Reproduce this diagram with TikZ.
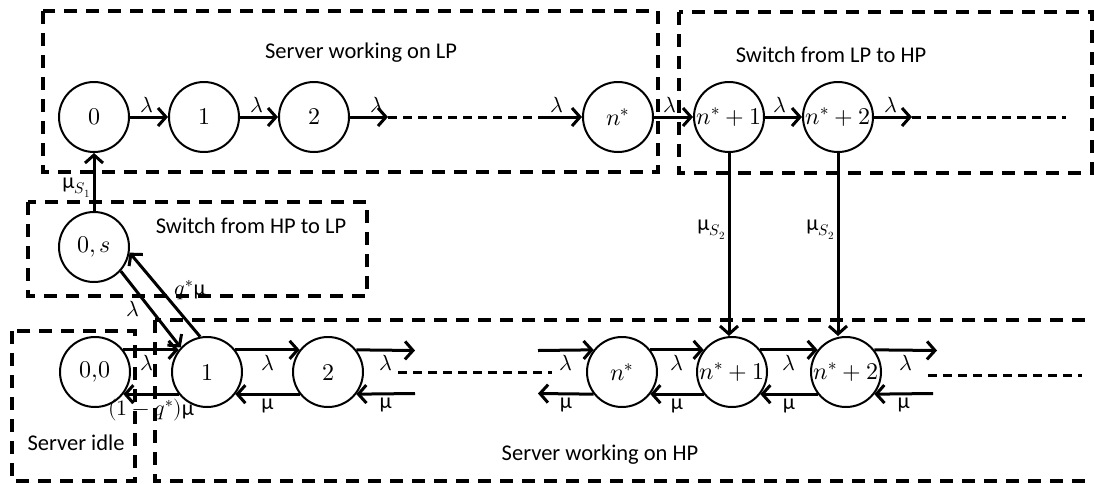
\documentclass[tikz,border=0pt]{standalone}
\usepackage{fontspec}
\usepackage{unicode-math}
\setmainfont{Carlito}
\setmathfont{Latin Modern Math}
\usetikzlibrary{arrows.meta}
\begin{document}
\begin{tikzpicture}[x=1pt,y=-1pt,
  state/.style={draw,circle,line width=2pt,minimum size=70pt,inner sep=0pt,font=\fontsize{24}{28}\selectfont},
  arr/.style={line width=3pt,-{Straight Barb[length=8pt,width=18pt,line width=3pt]}},
  zone/.style={line width=4pt,dash pattern=on 13pt off 9pt},
  gap/.style={line width=3pt,dash pattern=on 9pt off 6pt},
  lbl/.style={font=\fontsize{22}{26}\selectfont,inner sep=2pt},
  zonetext/.style={font=\fontsize{22.5}{26}\selectfont}]
\clip (0,0) rectangle (1094,483);
% regions
\draw[zone] (43,11) rectangle (658,172);
\draw[zone] (679,12) rectangle (1092,173);
\draw[zone] (28,202) rectangle (367,296);
\draw[zone] (12,331) rectangle (135,481);
\draw[zone] (155,320) rectangle (1130,481);
\node[zonetext] (tlp) at (361,53) {Server working on LP};
\node[zonetext] (tlh) at (831,55) {Switch from LP to HP};
\node[zonetext] (thl) at (251,226) {Switch from HP to LP};
\node[zonetext] (tidle) at (76,443) {Server idle};
\node[zonetext] (thp) at (600,455) {Server working on HP};
% states
\node[state] (z0) at (94,117) {$0$};
\node[state] (z1) at (204,117) {$1$};
\node[state] (z2) at (314,117) {$2$};
\node[state] (zn) at (618,117) {$n^*$};
\node[state] (zn1) at (729,117) {$n^*+1$};
\node[state] (zn2) at (838,117) {$n^*+2$};
\node[state] (zs) at (94,247) {$0,s$};
\node[state] (h0) at (95,372) {$0{,}0$};
\node[state] (h1) at (207,372) {$1$};
\node[state] (h2) at (328,372) {$2$};
\node[state] (hn) at (622,372) {$n^*$};
\node[state] (hn1) at (732,372) {$n^*+1$};
\node[state] (hn2) at (846,372) {$n^*+2$};
% free ends
\coordinate (t2) at (388,117);
\coordinate (t3) at (543,117);
\coordinate (t4) at (912,117);
\coordinate (t5) at (1066,117);
\coordinate (b1) at (415,350.5);
\coordinate (b2) at (415,393.5);
\coordinate (b3) at (398,372);
\coordinate (b4) at (552,372);
\coordinate (b5) at (538,350.5);
\coordinate (b6) at (538,393.5);
\coordinate (b7) at (937,350.5);
\coordinate (b8) at (933,393.5);
\coordinate (b9) at (928,375);
\coordinate (b10) at (1082,375);
% top row
\draw[arr] (z0) -- node[lbl,above=1pt,pos=0.45]{$\lambda$} (z1);
\draw[arr] (z1) -- node[lbl,above=1pt,pos=0.45]{$\lambda$} (z2);
\draw[arr] (z2) -- node[lbl,above=1pt,pos=0.7]{$\lambda$} (t2);
\draw[gap] (t2) -- (t3);
\draw[arr] (t3) -- node[lbl,above=1pt,pos=0.35]{$\lambda$} (zn);
\draw[arr] (zn) -- node[lbl,above=1pt,pos=0.4]{$\lambda$} (zn1);
\draw[arr] (zn1) -- node[lbl,above=1pt,pos=0.4]{$\lambda$} (zn2);
\draw[arr] (zn2) -- node[lbl,above=1pt,pos=0.45]{$\lambda$} (t4);
\draw[gap] (t4) -- (t5);
% switching
\draw[arr] (zs) -- node[lbl,left,pos=0.4]{μ$_{S_1}$} (z0);
\draw[arr] (zn1) -- node[lbl,left,pos=0.42]{μ$_{S_2}$} (zn1 |- hn1.north);
\draw[arr] (zn2) -- node[lbl,left,pos=0.42]{μ$_{S_2}$} (zn2 |- hn2.north);
\draw[arr] (zs.-42) -- node[lbl,left=8pt]{$\lambda$} (h1.137);
\draw[arr] (h1.101) -- node[lbl,right=10pt,pos=0.55]{$q^*$μ} (zs.-9);
% bottom row
\draw[arr] (h0.38) -- node[lbl,below=2pt,pos=0.42]{$\lambda$} (h1.142);
\draw[arr] (h1.-142) -- node[lbl,below=1pt]{$(1-q^*)$μ} (h0.-38);
\draw[arr] (h1.38) -- node[lbl,below=2pt]{$\lambda$} (h2.142);
\draw[arr] (h2.-142) -- node[lbl,below=1pt]{μ} (h1.-38);
\draw[arr] (h2.38) -- node[lbl,below=2pt]{$\lambda$} (b1);
\draw[arr] (b2) -- node[lbl,below=1pt]{μ} (h2.-38);
\draw[gap] (b3) -- (b4);
\draw[arr] (b5) -- node[lbl,below=2pt]{$\lambda$} (hn.142);
\draw[arr] (hn.-142) -- node[lbl,below=1pt]{μ} (b6);
\draw[arr] (hn.38) -- node[lbl,below=2pt]{$\lambda$} (hn1.142);
\draw[arr] (hn1.-142) -- node[lbl,below=1pt]{μ} (hn.-38);
\draw[arr] (hn1.38) -- node[lbl,below=2pt]{$\lambda$} (hn2.142);
\draw[arr] (hn2.-142) -- node[lbl,below=1pt]{μ} (hn1.-38);
\draw[arr] (hn2.38) -- node[lbl,below=2pt]{$\lambda$} (b7);
\draw[arr] (b8) -- node[lbl,below=1pt]{μ} (hn2.-38);
\draw[gap] (b9) -- (b10);
\end{tikzpicture}
\end{document}
